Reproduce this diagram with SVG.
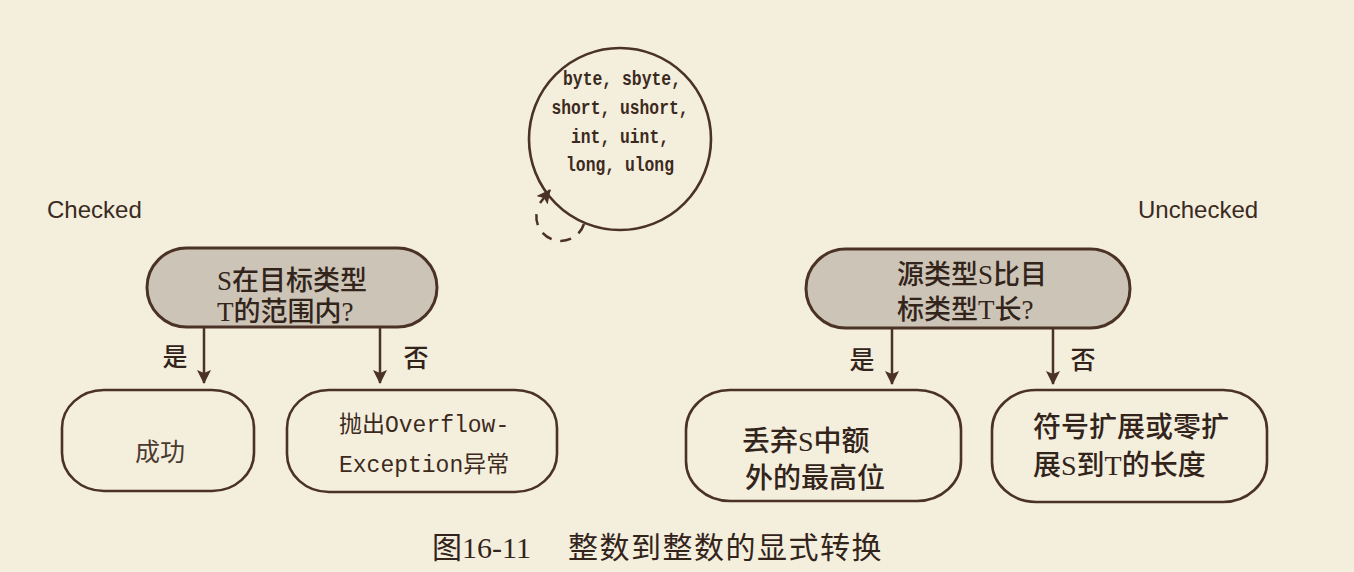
<svg xmlns="http://www.w3.org/2000/svg" width="1354" height="572" viewBox="0 0 1354 572">
<defs>
<style>
.bg{fill:#f4eedd}
.pill{fill:#ccc4b6;stroke:#4a3226;stroke-width:3}
.box{fill:none;stroke:#4a3226;stroke-width:2.6}
.conn{fill:none;stroke:#4a3226;stroke-width:2.5}
.dash{fill:none;stroke:#4a3226;stroke-width:2.5;stroke-dasharray:11 9}
.serif{font-family:"Liberation Serif","Noto Sans CJK SC",serif;fill:#33241b}
.mono{font-family:"Liberation Mono","Noto Sans CJK SC",monospace;fill:#3c2a20}
.sans{font-family:"Liberation Sans","Noto Sans CJK SC",sans-serif;fill:#3a2a22}
.cjk{font-family:"Noto Sans CJK SC",sans-serif;fill:#4a3a30}
</style>
<marker id="ah" viewBox="0 0 14 14" refX="13" refY="7" markerWidth="14" markerHeight="14" markerUnits="userSpaceOnUse" orient="auto">
<path d="M0,0 L14,7 L0,14 L3,7 z" fill="#4a3226"/>
</marker>
</defs>
<rect class="bg" x="0" y="0" width="1354" height="572"/>

<g id="types">
<circle cx="620" cy="139" r="91" fill="none" stroke="#4a3226" stroke-width="2.6"/>
<g class="mono" font-size="20" font-weight="bold" text-anchor="middle">
<text x="622" y="85" textLength="118" lengthAdjust="spacingAndGlyphs">byte, sbyte,</text>
<text x="620" y="114" textLength="137" lengthAdjust="spacingAndGlyphs">short, ushort,</text>
<text x="620" y="143" textLength="98" lengthAdjust="spacingAndGlyphs">int, uint,</text>
<text x="620" y="171" textLength="108" lengthAdjust="spacingAndGlyphs">long, ulong</text>
</g>
</g>

<g id="label-checked"><text class="sans" x="47" y="218" font-size="24">Checked</text></g>
<g id="label-unchecked"><text class="sans" x="1138" y="218" font-size="24">Unchecked</text></g>

<g id="decision-left">
<rect class="pill" x="147" y="248" width="290" height="79" rx="39.5" ry="39.5"/>
<text class="serif" font-size="27" font-weight="500"><tspan x="217" y="290">S在目标类型</tspan><tspan x="217" y="321">T的范围内?</tspan></text>
</g>

<g id="decision-right">
<rect class="pill" x="806" y="249" width="324" height="79" rx="39.5" ry="39.5"/>
<text class="serif" font-size="27" font-weight="500"><tspan x="897" y="284">源类型S比目</tspan><tspan x="897" y="319">标类型T长?</tspan></text>
</g>

<g id="success">
<rect class="box" x="62" y="390" width="192" height="101" rx="42" ry="38"/>
<text class="cjk" x="160" y="461" font-size="25" text-anchor="middle">成功</text>
</g>

<g id="overflow">
<rect class="box" x="287" y="390" width="270" height="102" rx="42" ry="38"/>
<text class="mono" font-size="23"><tspan x="339" y="432">抛出Overflow-</tspan><tspan x="339" y="472">Exception异常</tspan></text>
</g>

<g id="discard">
<rect class="box" x="686" y="390" width="275" height="111" rx="44" ry="40"/>
<text class="serif" font-size="28" font-weight="500"><tspan x="742" y="451">丢弃S中额</tspan><tspan x="745" y="488">外的最高位</tspan></text>
</g>

<g id="extend">
<rect class="box" x="992" y="390" width="275" height="112" rx="44" ry="40"/>
<text class="serif" font-size="28" font-weight="500"><tspan x="1033" y="437">符号扩展或零扩</tspan><tspan x="1033" y="475">展S到T的长度</tspan></text>
</g>

<g id="connectors">
<line class="conn" x1="204" y1="327" x2="204" y2="383" marker-end="url(#ah)"/>
<line class="conn" x1="380" y1="327" x2="380" y2="383" marker-end="url(#ah)"/>
<line class="conn" x1="892" y1="328" x2="892" y2="384" marker-end="url(#ah)"/>
<line class="conn" x1="1053" y1="328" x2="1053" y2="384" marker-end="url(#ah)"/>
<path class="dash" d="M584,224 A24,24 0 1 1 537.5,209" />
<path class="conn" d="M540,203 L550,190" marker-end="url(#ah)"/>
<g class="serif" font-size="25" font-weight="500">
<text x="175" y="366" text-anchor="middle">是</text>
<text x="416" y="367" text-anchor="middle">否</text>
<text x="862" y="369" text-anchor="middle">是</text>
<text x="1083" y="369" text-anchor="middle">否</text>
</g>
</g>

<g id="caption">
<text class="serif" x="432" y="558" font-size="30"><tspan>图16-11</tspan><tspan x="568" letter-spacing="1.5">整数到整数的显式转换</tspan></text>
</g>
</svg>
